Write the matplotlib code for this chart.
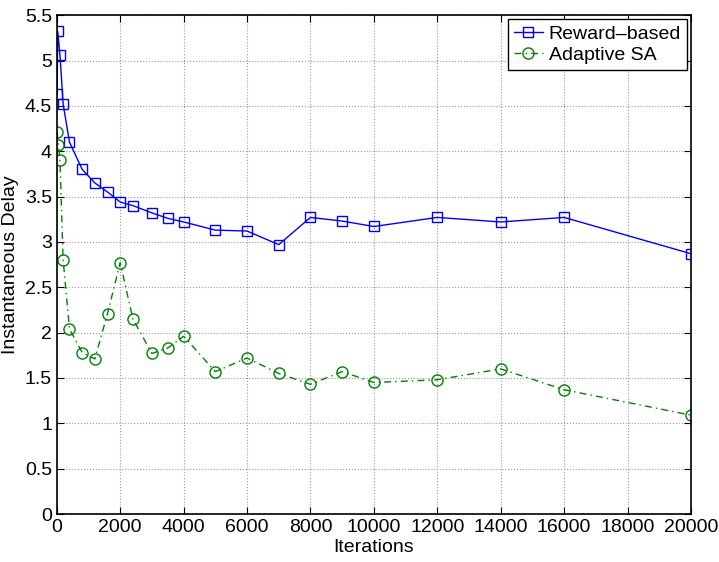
import numpy as np
import matplotlib
matplotlib.use("Agg")
import matplotlib.pyplot as plt

plt.rcParams['font.family'] = ['Liberation Sans', 'DejaVu Sans']

# dados
iter_reward = [10, 30, 100, 200, 400, 800, 1200, 1600, 2000, 2400, 3000, 3500, 4000,
               5000, 6000, 7000, 8000, 9000, 10000, 12000, 14000, 16000, 20000]
delay_reward = [4.63, 5.32, 5.06, 4.52, 4.10, 3.80, 3.65, 3.55, 3.44, 3.40, 3.32, 3.26, 3.22,
                3.13, 3.12, 2.97, 3.27, 3.23, 3.17, 3.27, 3.22, 3.27, 2.87]

iter_sa = [10, 50, 100, 200, 400, 800, 1200, 1600, 2000, 2400, 3000, 3500, 4000,
           5000, 6000, 7000, 8000, 9000, 10000, 12000, 14000, 16000, 20000]
delay_sa = [4.21, 4.07, 3.90, 2.80, 2.04, 1.78, 1.71, 2.21, 2.77, 2.15, 1.77, 1.83, 1.96,
            1.57, 1.72, 1.55, 1.43, 1.57, 1.45, 1.48, 1.60, 1.37, 1.09]

fig = plt.figure(figsize=(7.19, 5.62), dpi=100)
ax = fig.add_axes([0.079, 0.0854, 0.882, 0.8876])

ax.plot(iter_reward, delay_reward, '-', color='blue', marker='s', markersize=7,
        markerfacecolor='none', markeredgecolor='blue', linewidth=1, label='Reward\u2013based')
ax.plot(iter_sa, delay_sa, color='green', marker='o', markersize=8, dashes=(5, 3, 1, 3),
        markerfacecolor='none', markeredgecolor='green', linewidth=1, label='Adaptive SA')

ax.set_xlim(0, 20000)
ax.set_ylim(0, 5.5)
ax.set_xticks(np.arange(0, 20001, 2000))
ax.set_yticks(np.arange(0, 5.51, 0.5))
ax.set_yticklabels(['0', '0.5', '1', '1.5', '2', '2.5', '3', '3.5', '4', '4.5', '5', '5.5'])
ax.tick_params(direction='in', top=True, right=True, labelsize=14, length=5)
ax.grid(True, linestyle=':', color='#999999', linewidth=0.8)
for s in ax.spines.values():
    s.set_linewidth(1.2)

ax.set_xlabel('Iterations', fontsize=14, labelpad=2)
ax.set_ylabel('Instantaneous Delay', fontsize=14, labelpad=4)

leg = ax.legend(loc='upper right', fontsize=14, fancybox=False, framealpha=1,
                edgecolor='black', borderpad=0.3, labelspacing=0.2, handlelength=1.5,
                handletextpad=0.3, borderaxespad=0.2)
leg.get_frame().set_linewidth(1.0)

plt.savefig("out.png", dpi=100)
